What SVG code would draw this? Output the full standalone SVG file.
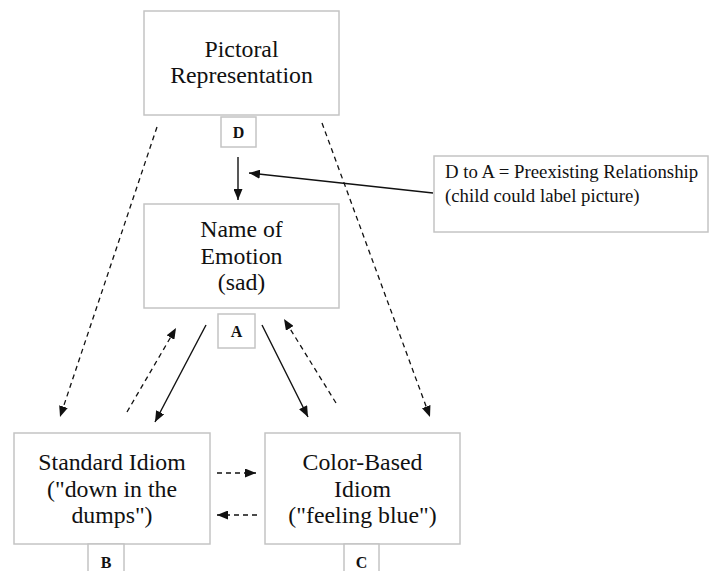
<svg xmlns="http://www.w3.org/2000/svg" width="709" height="571" viewBox="0 0 709 571">
<defs>
<style>
.box{fill:#fff;stroke:#c4c4c4;stroke-width:1.5}
.t{font-family:"Liberation Serif","Times New Roman",serif;font-size:23.8px;fill:#111;text-anchor:middle}
.lbl{font-family:"Liberation Serif","Times New Roman",serif;font-size:16px;font-weight:bold;fill:#111;text-anchor:middle}
.note{font-family:"Liberation Serif","Times New Roman",serif;font-size:18.8px;fill:#111}
.solid{stroke:#111;stroke-width:1.4;fill:none;marker-end:url(#ah)}
.dash{stroke:#111;stroke-width:1.3;fill:none;stroke-dasharray:5 4;marker-end:url(#ah)}
</style>
<marker id="ah" markerUnits="userSpaceOnUse" markerWidth="11" markerHeight="9" refX="11" refY="4.5" orient="auto">
<path d="M0,0 L11,4.5 L0,9 z" fill="#111"/>
</marker>
</defs>
<rect width="709" height="571" fill="#fff"/>
<g id="node-D">
<rect class="box" x="144" y="11" width="195" height="104"/>
<text class="t" x="241.5" y="57">Pictoral</text>
<text class="t" x="241.5" y="83">Representation</text>
<rect class="box" x="221" y="117" width="35" height="30"/>
<text class="lbl" x="238.5" y="138">D</text>
</g>
<g id="node-A">
<rect class="box" x="144" y="204" width="195" height="104"/>
<text class="t" x="241.5" y="237">Name of</text>
<text class="t" x="241.5" y="264">Emotion</text>
<text class="t" x="241.5" y="290">(sad)</text>
<rect class="box" x="218" y="314" width="37" height="34"/>
<text class="lbl" x="236.5" y="337">A</text>
</g>
<g id="node-B">
<rect class="box" x="14" y="433" width="196" height="111"/>
<text class="t" x="112" y="470">Standard Idiom</text>
<text class="t" x="112" y="497">("down in the</text>
<text class="t" x="112" y="523">dumps")</text>
<rect class="box" x="88" y="544" width="36" height="32"/>
<text class="lbl" x="106" y="568">B</text>
</g>
<g id="node-C">
<rect class="box" x="265" y="433" width="195" height="111"/>
<text class="t" x="362.5" y="470">Color-Based</text>
<text class="t" x="362.5" y="497">Idiom</text>
<text class="t" x="362.5" y="523">("feeling blue")</text>
<rect class="box" x="344" y="544" width="35" height="32"/>
<text class="lbl" x="361.5" y="568">C</text>
</g>
<g id="note">
<rect class="box" x="434" y="156" width="274" height="76"/>
<text class="note" x="445" y="178">D to A = Preexisting Relationship</text>
<text class="note" x="445" y="202">(child could label picture)</text>
</g>
<g id="connectors">
<line class="dash" x1="157" y1="127" x2="60" y2="417"/>
<line class="dash" x1="322" y1="123" x2="430" y2="417"/>
<line class="solid" x1="238" y1="157" x2="238" y2="200"/>
<line class="solid" x1="433" y1="193" x2="249" y2="173"/>
<line class="solid" x1="206" y1="325" x2="155" y2="422"/>
<line class="dash" x1="127" y1="412" x2="176" y2="328"/>
<line class="solid" x1="262" y1="325" x2="308" y2="417"/>
<line class="dash" x1="336" y1="403" x2="284" y2="319"/>
<line class="dash" x1="217" y1="473" x2="256" y2="473"/>
<line class="dash" x1="257" y1="515" x2="217" y2="515"/>
</g>
</svg>
